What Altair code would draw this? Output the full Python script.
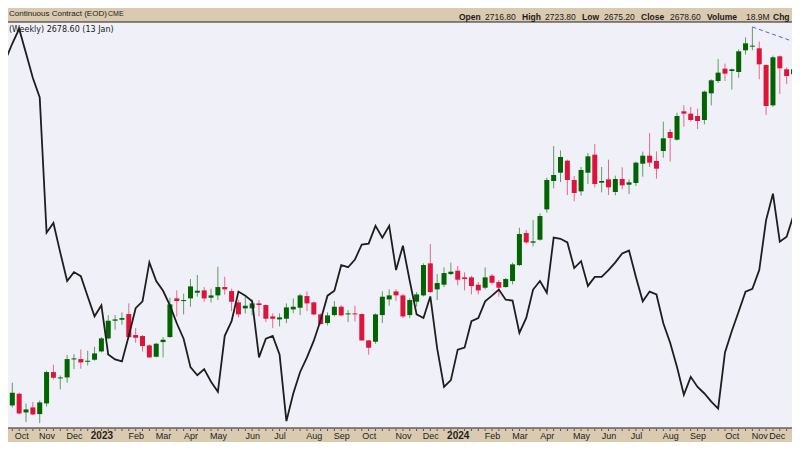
import altair as alt
import pandas as pd

# ---------------- data (weekly bars, week starting Monday) ----------------
dates = pd.date_range("2022-09-26", periods=116, freq="7D").strftime("%Y-%m-%d").tolist()

opens = [1651, 1669, 1704, 1648, 1663, 1643, 1675, 1769, 1750, 1753, 1807, 1808, 1800, 1806, 1831, 1870,
         1923, 1926, 1943, 1880, 1877, 1849, 1815, 1859, 1874, 1990, 1982, 1990, 2007, 2014, 1992, 1999,
         2024, 2012, 1978, 1960, 1960, 1975, 1970, 1936, 1927, 1929, 1957, 1962, 1997, 1978, 1942, 1916,
         1940, 1965, 1942, 1945, 1943, 1864, 1860, 1940, 1987, 2011, 1999, 1940, 1980, 1999, 2095, 2017,
         2031, 2063, 2073, 2053, 2053, 2031, 2022, 2058, 2039, 2024, 2042, 2090, 2186, 2157, 2166, 2257,
         2342, 2367, 2403, 2345, 2311, 2367, 2421, 2337, 2347, 2309, 2348, 2331, 2336, 2394, 2418, 2402,
         2432, 2489, 2466, 2551, 2544, 2537, 2525, 2605, 2642, 2679, 2672, 2669, 2734, 2745, 2740, 2690,
         2569, 2716, 2677, 2662]
highs = [1687, 1737, 1707, 1675, 1679, 1684, 1773, 1791, 1759, 1820, 1823, 1837, 1833, 1845, 1874, 1940,
         1940, 1948, 1975, 1901, 1880, 1852, 1857, 1874, 1992, 2014, 2004, 2048, 2060, 2024, 2019, 2085,
         2055, 2019, 1985, 1995, 1987, 1985, 1972, 1945, 1945, 1975, 1990, 2004, 2011, 1980, 1945, 1948,
         1982, 1970, 1955, 1968, 1945, 1864, 1945, 2011, 2017, 2017, 2004, 1990, 2009, 2095, 2153, 2063,
         2083, 2097, 2087, 2068, 2058, 2039, 2083, 2063, 2045, 2051, 2097, 2202, 2195, 2225, 2245, 2352,
         2447, 2434, 2406, 2357, 2384, 2426, 2453, 2384, 2406, 2358, 2383, 2347, 2400, 2430, 2486, 2431,
         2520, 2498, 2547, 2569, 2564, 2559, 2613, 2647, 2708, 2694, 2679, 2737, 2773, 2804, 2760, 2692,
         2718, 2718, 2682, 2760]
lows = [1616, 1663, 1642, 1619, 1640, 1616, 1666, 1747, 1717, 1737, 1778, 1779, 1789, 1803, 1828, 1867,
        1896, 1911, 1872, 1857, 1831, 1812, 1813, 1813, 1872, 1936, 1942, 1965, 1995, 1980, 1978, 1985,
        2001, 1952, 1933, 1945, 1939, 1936, 1919, 1901, 1906, 1916, 1945, 1940, 1952, 1939, 1911, 1909,
        1936, 1936, 1919, 1921, 1862, 1821, 1854, 1916, 1968, 1982, 1931, 1931, 1965, 1996, 2006, 1985,
        2024, 2060, 2029, 2014, 2002, 2002, 2017, 2032, 1995, 2022, 2032, 2087, 2154, 2146, 2163, 2247,
        2320, 2339, 2300, 2281, 2298, 2333, 2323, 2308, 2300, 2299, 2317, 2303, 2327, 2355, 2384, 2349,
        2412, 2400, 2463, 2505, 2520, 2498, 2512, 2569, 2636, 2642, 2616, 2652, 2721, 2734, 2647, 2540,
        2564, 2603, 2633, 2647]
closes = [1672, 1707, 1645, 1657, 1642, 1678, 1769, 1752, 1753, 1808, 1810, 1798, 1803, 1825, 1870, 1923,
          1927, 1931, 1874, 1872, 1847, 1813, 1854, 1866, 1972, 1982, 1985, 2026, 2013, 1990, 1999, 2024,
          2017, 1980, 1942, 1968, 1975, 1970, 1929, 1929, 1933, 1963, 1965, 1999, 1975, 1942, 1913, 1939,
          1965, 1939, 1945, 1942, 1864, 1842, 1942, 1995, 1999, 1999, 1936, 1985, 2002, 2090, 2009, 2036,
          2066, 2070, 2046, 2048, 2027, 2014, 2053, 2037, 2022, 2048, 2092, 2183, 2158, 2161, 2237, 2345,
          2360, 2414, 2345, 2306, 2375, 2416, 2333, 2342, 2323, 2348, 2329, 2338, 2397, 2418, 2397, 2379,
          2470, 2471, 2537, 2544, 2525, 2522, 2610, 2644, 2667, 2664, 2677, 2731, 2755, 2748, 2692, 2567,
          2713, 2680, 2657, 2677]
indicator = [90.6, 94.7, 98.3, 92.3, 86.2, 81.4, 48.1, 50.5, 43.2, 36.2, 38.4, 37.4, 32.4, 27.5, 30.2, 18.1,
             16.9, 16.4, 22.7, 29.5, 31.2, 40.8, 36.2, 33.8, 30.2, 25.8, 22.0, 15.0, 13.0, 14.5, 11.4, 8.9,
             22.7, 26.3, 33.6, 32.6, 31.2, 17.4, 22.0, 22.7, 18.1, 1.7, 8.5, 13.8, 17.4, 21.5, 26.6, 32.6,
             33.8, 40.1, 39.6, 41.5, 45.2, 45.4, 49.8, 46.9, 49.8, 38.9, 44.9, 36.2, 28.0, 27.1, 32.4, 19.6,
             10.1, 11.8, 19.3, 19.8, 26.3, 27.1, 31.2, 32.6, 34.1, 31.6, 31.4, 23.4, 27.1, 34.1, 36.2, 33.3,
             46.9, 46.6, 45.7, 39.4, 41.1, 35.0, 37.2, 37.2, 38.9, 40.8, 43.0, 43.7, 37.2, 31.2, 33.6, 32.9,
             25.8, 21.0, 15.0, 8.2, 12.6, 10.1, 8.5, 6.5, 4.8, 18.6, 23.9, 28.7, 33.6, 34.3, 38.9, 51.2,
             57.7, 45.9, 47.1, 52.4]

trend_dates = ["2024-10-28", "2024-12-09"]
trend_values = [2804, 2760]

header_left = "Continuous Contract (EOD)"
header_exchange = "CME"
price_label = "(Weekly) 2678.60 (13 Jan)"
ohlc_items = [("Open", True), ("2716.80", False), ("High", True), ("2723.80", False),
              ("Low", True), ("2675.20", False), ("Close", True), ("2678.60", False),
              ("Volume", True), ("18.9M", False), ("Chg", True)]

# ---------------- layout ----------------
W, H = 784, 406
TAN = "#dacab0"
PLOT_BG = "#f0f0f8"
UP, DOWN = "#006400", "#dc143c"
ohlc_x = [451, 477, 514, 537, 574, 596, 633, 662, 699, 738, 765]

df = pd.DataFrame({"date": dates, "open": opens, "high": highs, "low": lows,
                   "close": closes, "ind": indicator})
df["dir"] = ["up" if c >= o else "down" for o, c in zip(opens, closes)]
trend_df = pd.DataFrame({"date": trend_dates, "price": trend_values})

# month label positions: first weekly bar of each month inside the view
firsts, seen = [], set()
for d in dates:
    if d[:7] not in seen:
        seen.add(d[:7])
        firsts.append(d)
firsts = firsts[1:]
tick_ms = [int(pd.Timestamp(d, tz="UTC").value // 10**6) for d in firsts]
first_ms, last_ms = tick_ms[0], tick_ms[-1]

x0 = int(pd.Timestamp("2022-10-03T16:55", tz="UTC").value // 10**6)
x1 = int(pd.Timestamp("2024-12-02T08:31", tz="UTC").value // 10**6)
xscale = alt.Scale(type="utc", domain=[x0, x1])
is_year = "utcmonth(datum.value) == 0"
is_first = f"datum.value <= {first_ms}"
is_last = f"datum.value >= {last_ms}"
xaxis = alt.Axis(
    values=tick_ms,
    labelExpr="utcmonth(datum.value) == 0 ? utcFormat(datum.value, '%Y') : utcFormat(datum.value, '%b')",
    labelFontWeight={"condition": {"test": is_year, "value": "bold"}, "value": "normal"},
    labelFontSize={"condition": {"test": is_year, "value": 10}, "value": 9},
    labelAlign={"condition": [{"test": is_first, "value": "left"}, {"test": is_last, "value": "right"}],
                "value": "center"},
    labelOffset={"condition": [{"test": is_first, "value": 2}, {"test": is_last, "value": -2}],
                 "value": 0},
    labelFont="Liberation Sans", labelColor="#222", labelBaseline="middle",
    labelPadding=7, domain=False, ticks=False, grid=False, labelOverlap=False, labelFlush=False,
    title=None,
)
X = alt.X("date:T", scale=xscale, axis=xaxis)
price_scale = alt.Scale(domain=[1601.3, 2818.9], nice=False, zero=False)
color = alt.Color("dir:N", scale=alt.Scale(domain=["up", "down"], range=[UP, DOWN]), legend=None)

base = alt.Chart(df)
wicks = base.mark_rule(clip=True, strokeWidth=1, opacity=0.6).encode(
    x=X, y=alt.Y("low:Q", scale=price_scale, axis=None), y2="high:Q", color=color)
bodies = base.mark_bar(width=5, clip=True).encode(
    x=X, y=alt.Y("open:Q", scale=price_scale, axis=None), y2="close:Q", color=color)
trend = alt.Chart(trend_df).mark_line(color="#5a5aff", strokeDash=[4, 3], strokeWidth=1, clip=True).encode(
    x=X, y=alt.Y("price:Q", scale=price_scale, axis=None))
ind_line = base.mark_line(color="#1e1e1e", strokeWidth=1.8, clip=True).encode(
    x=X, y=alt.Y("ind:Q", scale=alt.Scale(domain=[0, 100], nice=False, zero=False), axis=None))
week_ticks = base.mark_rule(color="#555", strokeWidth=1, clip=False).encode(
    x=X, y=alt.value(H + 1), y2=alt.value(H + 3))
borders = [
    alt.Chart(pd.DataFrame({"k": [0]})).mark_rule(color="#222", strokeWidth=1).encode(
        x=alt.value(0), x2=alt.value(W), y=alt.value(yy))
    for yy in (0, H)
]


def label(text, x, y, size=9, weight="normal", align="left", font="Liberation Sans", color="#1a1a1a"):
    return alt.Chart(pd.DataFrame({"t": [text]})).mark_text(
        align=align, baseline="middle", fontSize=size, fontWeight=weight, font=font, color=color
    ).encode(text="t:N", x=alt.value(x), y=alt.value(y))


texts = [
    label(header_left, 1, -8, size=8),
    label(header_exchange, 100, -8, size=7),
    label(price_label, 1, 7.5, size=8, font="DejaVu Sans"),
]
for (t, bold), xx in zip(ohlc_items, ohlc_x):
    texts.append(label(t, xx, -5, size=8.5 if bold else 8.5, weight="bold" if bold else "normal"))

chart = alt.layer(
    wicks, bodies, trend, ind_line, week_ticks, *borders, *texts
).resolve_scale(y="independent").properties(
    width=W, height=H,
    autosize=alt.AutoSizeParams(type="none"),
    padding={"left": 0, "top": 14, "right": 0, "bottom": 14},
    background=TAN,
).configure_view(fill=PLOT_BG, stroke=None)

chart.save("out.html", embed_options={"renderer": "svg", "actions": False})
